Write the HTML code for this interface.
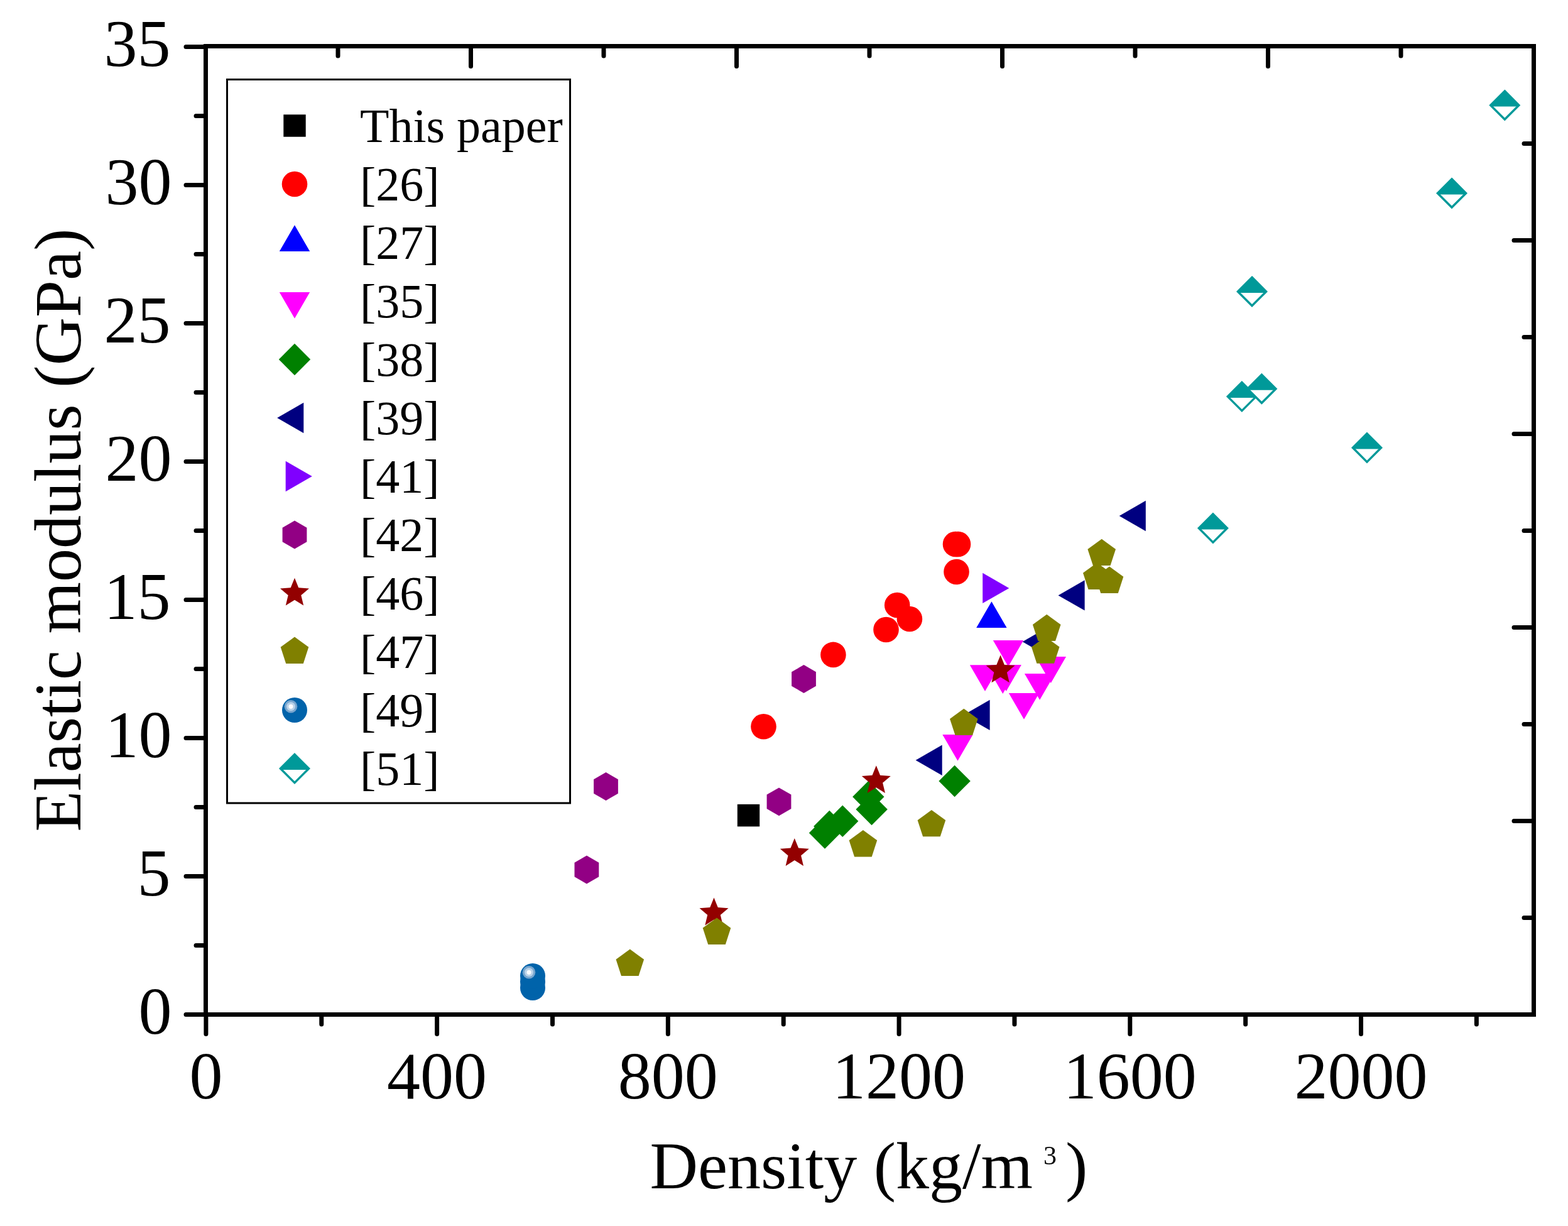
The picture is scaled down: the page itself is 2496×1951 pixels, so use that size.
<!DOCTYPE html>
<html><head><meta charset="utf-8"><title>Elastic modulus vs density</title>
<style>
html,body{margin:0;padding:0;background:#fff;overflow:hidden;}
svg{display:block;}
text{font-family:"Liberation Serif","Times New Roman",serif;fill:#000;}
</style></head>
<body>
<svg width="2496" height="1951" viewBox="0 0 2496 1951">
<rect width="2496" height="1951" fill="#fff"/>
<path d="M327.5,70.0V1618.0M2441.5,70.0V1618.0M324.0,73.5H2445.0M324.0,1614.5H2445.0" stroke="#000" stroke-width="7" fill="none"/>
<path d="M327.5,1614.50H296.0M327.5,1504.50H312.0M327.5,1394.50H296.0M327.5,1284.50H312.0M327.5,1174.50H296.0M327.5,1064.50H312.0M327.5,954.50H296.0M327.5,844.50H312.0M327.5,734.50H296.0M327.5,624.50H312.0M327.5,514.50H296.0M327.5,404.50H312.0M327.5,294.50H296.0M327.5,184.50H312.0M327.5,74.50H296.0M327.90,1614.5V1645.5M511.76,1614.5V1630.0M695.62,1614.5V1645.5M879.49,1614.5V1630.0M1063.35,1614.5V1645.5M1247.21,1614.5V1630.0M1431.07,1614.5V1645.5M1614.93,1614.5V1630.0M1798.80,1614.5V1645.5M1982.66,1614.5V1630.0M2166.52,1614.5V1645.5M2350.38,1614.5V1630.0M538.00,73.5V89.0M749.50,73.5V105.5M961.00,73.5V89.0M1172.50,73.5V105.5M1384.00,73.5V89.0M1595.50,73.5V105.5M1807.00,73.5V89.0M2018.50,73.5V105.5M2230.00,73.5V89.0M2441.5,1460.50H2426.0M2441.5,1306.50H2410.0M2441.5,1152.50H2426.0M2441.5,998.50H2410.0M2441.5,844.50H2426.0M2441.5,690.50H2410.0M2441.5,536.50H2426.0M2441.5,382.50H2410.0M2441.5,228.50H2426.0" stroke="#000" stroke-width="7" stroke-linecap="round" fill="none"/>
<text x="273.5" y="1645.0" text-anchor="end" font-size="106">0</text>
<text x="271.5" y="1425.0" text-anchor="end" font-size="106">5</text>
<text x="273.5" y="1205.0" text-anchor="end" font-size="106">10</text>
<text x="271.5" y="985.0" text-anchor="end" font-size="106">15</text>
<text x="273.5" y="765.0" text-anchor="end" font-size="106">20</text>
<text x="271.5" y="545.0" text-anchor="end" font-size="106">25</text>
<text x="273.5" y="325.0" text-anchor="end" font-size="106">30</text>
<text x="271.5" y="105.0" text-anchor="end" font-size="106">35</text>
<text x="327.9" y="1748.3" text-anchor="middle" font-size="106">0</text>
<text x="695.6" y="1748.3" text-anchor="middle" font-size="106">400</text>
<text x="1063.3" y="1748.3" text-anchor="middle" font-size="106">800</text>
<text x="1431.1" y="1748.3" text-anchor="middle" font-size="106">1200</text>
<text x="1798.8" y="1748.3" text-anchor="middle" font-size="106">1600</text>
<text x="2166.5" y="1748.3" text-anchor="middle" font-size="106">2000</text>
<text x="1034.5" y="1891.3" font-size="106">Density (kg/m</text>
<text x="1661" y="1853" font-size="42">3</text>
<text x="1696" y="1891.3" font-size="106">)</text>
<text transform="translate(127.9,1323.5) rotate(-90)" font-size="106">Elastic modulus (GPa)</text>
<rect x="1173.8" y="1279.9" width="35.4" height="35.4" fill="#000000"/>
<circle cx="1521.0" cy="866.0" r="20.3" fill="#FF0000"/>
<circle cx="1525.0" cy="866.0" r="20.3" fill="#FF0000"/>
<circle cx="1522.5" cy="910.0" r="20.3" fill="#FF0000"/>
<circle cx="1428.2" cy="963.0" r="20.3" fill="#FF0000"/>
<circle cx="1447.9" cy="985.0" r="20.3" fill="#FF0000"/>
<circle cx="1410.5" cy="1002.0" r="20.3" fill="#FF0000"/>
<circle cx="1326.4" cy="1041.9" r="20.3" fill="#FF0000"/>
<circle cx="1215.5" cy="1156.3" r="20.3" fill="#FF0000"/>
<polygon points="1578.4,957.2 1602.6,999.0 1554.2,999.0" fill="#0000FF"/>
<polygon points="1580.8,1019.0 1629.2,1019.0 1605.0,1060.8" fill="#FF00FF"/>
<polygon points="1543.8,1058.3 1592.2,1058.3 1568.0,1100.1" fill="#FF00FF"/>
<polygon points="1572.1,1062.3 1620.5,1062.3 1596.3,1104.1" fill="#FF00FF"/>
<polygon points="1577.5,1058.1 1625.9,1058.1 1601.7,1099.9" fill="#FF00FF"/>
<polygon points="1630.9,1072.0 1679.3,1072.0 1655.1,1113.8" fill="#FF00FF"/>
<polygon points="1648.5,1045.1 1697.0,1045.1 1672.8,1086.9" fill="#FF00FF"/>
<polygon points="1605.8,1102.9 1654.2,1102.9 1630.0,1144.7" fill="#FF00FF"/>
<polygon points="1500.3,1169.0 1548.7,1169.0 1524.5,1210.8" fill="#FF00FF"/>
<polygon points="1519.6,1217.8 1544.8,1243.0 1519.6,1268.2 1494.4,1243.0" fill="#008000"/>
<polygon points="1382.3,1242.8 1407.5,1268.0 1382.3,1293.2 1357.1,1268.0" fill="#008000"/>
<polygon points="1387.6,1262.8 1412.8,1288.0 1387.6,1313.2 1362.4,1288.0" fill="#008000"/>
<polygon points="1341.2,1281.6 1366.4,1306.8 1341.2,1332.0 1316.0,1306.8" fill="#008000"/>
<polygon points="1320.3,1289.8 1345.5,1315.0 1320.3,1340.2 1295.1,1315.0" fill="#008000"/>
<polygon points="1313.0,1300.3 1338.2,1325.5 1313.0,1350.7 1287.8,1325.5" fill="#008000"/>
<polygon points="1533.5,1137.9 1575.6,1113.7 1575.6,1162.1" fill="#000080"/>
<polygon points="1627.7,1021.2 1669.8,997.0 1669.8,1045.4" fill="#000080"/>
<polygon points="1457.6,1209.7 1499.7,1185.5 1499.7,1233.9" fill="#000080"/>
<polygon points="1684.5,947.4 1726.6,923.2 1726.6,971.6" fill="#000080"/>
<polygon points="1781.7,821.0 1823.8,796.8 1823.8,845.2" fill="#000080"/>
<polygon points="1606.3,935.9 1564.2,911.7 1564.2,960.1" fill="#8000FF"/>
<polygon points="964.5,1229.1 983.9,1240.3 983.9,1262.7 964.5,1273.9 945.1,1262.7 945.1,1240.3" fill="#920084"/>
<polygon points="1240.0,1253.4 1259.4,1264.6 1259.4,1287.0 1240.0,1298.2 1220.6,1287.0 1220.6,1264.6" fill="#920084"/>
<polygon points="933.9,1361.6 953.3,1372.8 953.3,1395.2 933.9,1406.4 914.5,1395.2 914.5,1372.8" fill="#920084"/>
<polygon points="1279.5,1058.1 1298.9,1069.3 1298.9,1091.7 1279.5,1102.9 1260.1,1091.7 1260.1,1069.3" fill="#920084"/>
<polygon points="1394.8,1218.2 1401.1,1233.7 1417.8,1234.9 1405.1,1245.7 1409.0,1262.0 1394.8,1253.2 1380.6,1262.0 1384.5,1245.7 1371.8,1234.9 1388.5,1233.7" fill="#930000"/>
<polygon points="1264.8,1334.1 1271.1,1349.6 1287.8,1350.8 1275.1,1361.6 1279.0,1377.9 1264.8,1369.1 1250.6,1377.9 1254.5,1361.6 1241.8,1350.8 1258.5,1349.6" fill="#930000"/>
<polygon points="1592.6,1042.4 1598.9,1057.9 1615.6,1059.1 1602.9,1069.9 1606.8,1086.2 1592.6,1077.4 1578.4,1086.2 1582.3,1069.9 1569.6,1059.1 1586.3,1057.9" fill="#930000"/>
<polygon points="1136.5,1428.6 1142.8,1444.1 1159.5,1445.3 1146.8,1456.1 1150.7,1472.4 1136.5,1463.6 1122.3,1472.4 1126.2,1456.1 1113.5,1445.3 1130.2,1444.1" fill="#930000"/>
<polygon points="1373.9,1321.1 1396.2,1337.3 1387.7,1363.4 1360.1,1363.4 1351.6,1337.3" fill="#808000"/>
<polygon points="1482.9,1289.0 1505.2,1305.2 1496.7,1331.3 1469.1,1331.3 1460.6,1305.2" fill="#808000"/>
<polygon points="1534.3,1127.8 1556.6,1144.0 1548.1,1170.1 1520.5,1170.1 1512.0,1144.0" fill="#808000"/>
<polygon points="1664.2,1013.4 1686.5,1029.6 1678.0,1055.7 1650.4,1055.7 1641.9,1029.6" fill="#808000"/>
<polygon points="1666.2,977.8 1688.5,994.0 1680.0,1020.1 1652.4,1020.1 1643.9,994.0" fill="#808000"/>
<polygon points="1746.3,895.6 1768.6,911.8 1760.1,937.9 1732.5,937.9 1724.0,911.8" fill="#808000"/>
<polygon points="1766.0,901.6 1788.3,917.8 1779.8,943.9 1752.2,943.9 1743.7,917.8" fill="#808000"/>
<polygon points="1753.7,857.8 1776.0,874.0 1767.5,900.1 1739.9,900.1 1731.4,874.0" fill="#808000"/>
<polygon points="1141.0,1460.6 1163.3,1476.8 1154.8,1502.9 1127.2,1502.9 1118.7,1476.8" fill="#808000"/>
<polygon points="1002.8,1510.6 1025.1,1526.8 1016.6,1552.9 989.0,1552.9 980.5,1526.8" fill="#808000"/>
<g><circle cx="848.0" cy="1572.0" r="20" fill="#0063AA"/><circle cx="842.0" cy="1566.3" r="10.3" fill="#78A6CF"/><circle cx="842.0" cy="1566.3" r="7" fill="#BAD2E8"/><circle cx="842.0" cy="1566.3" r="3.6" fill="#FAFCFF"/></g>
<g><circle cx="848.0" cy="1562.5" r="20" fill="#0063AA"/><circle cx="842.0" cy="1556.8" r="10.3" fill="#78A6CF"/><circle cx="842.0" cy="1556.8" r="7" fill="#BAD2E8"/><circle cx="842.0" cy="1556.8" r="3.6" fill="#FAFCFF"/></g>
<g><circle cx="848.0" cy="1553.0" r="20" fill="#0063AA"/><circle cx="842.0" cy="1547.3" r="10.3" fill="#78A6CF"/><circle cx="842.0" cy="1547.3" r="7" fill="#BAD2E8"/><circle cx="842.0" cy="1547.3" r="3.6" fill="#FAFCFF"/></g>
<g><polygon points="1930.9,817.9 1953.5,840.5 1930.9,863.1 1908.3,840.5" fill="#fff" stroke="#009999" stroke-width="3.4" stroke-linejoin="miter"/><polygon points="1930.9,817.9 1953.5,840.5 1951.5,842.5 1910.3,842.5 1908.3,840.5" fill="#009999"/></g>
<g><polygon points="1993.0,441.3 2015.6,463.9 1993.0,486.5 1970.4,463.9" fill="#fff" stroke="#009999" stroke-width="3.4" stroke-linejoin="miter"/><polygon points="1993.0,441.3 2015.6,463.9 2013.6,465.9 1972.4,465.9 1970.4,463.9" fill="#009999"/></g>
<g><polygon points="1976.9,608.5 1999.5,631.1 1976.9,653.7 1954.3,631.1" fill="#fff" stroke="#009999" stroke-width="3.4" stroke-linejoin="miter"/><polygon points="1976.9,608.5 1999.5,631.1 1997.5,633.1 1956.3,633.1 1954.3,631.1" fill="#009999"/></g>
<g><polygon points="2008.4,596.1 2031.0,618.7 2008.4,641.3 1985.8,618.7" fill="#fff" stroke="#009999" stroke-width="3.4" stroke-linejoin="miter"/><polygon points="2008.4,596.1 2031.0,618.7 2029.0,620.7 1987.8,620.7 1985.8,618.7" fill="#009999"/></g>
<g><polygon points="2176.0,689.9 2198.6,712.5 2176.0,735.1 2153.4,712.5" fill="#fff" stroke="#009999" stroke-width="3.4" stroke-linejoin="miter"/><polygon points="2176.0,689.9 2198.6,712.5 2196.6,714.5 2155.4,714.5 2153.4,712.5" fill="#009999"/></g>
<g><polygon points="2311.0,284.8 2333.6,307.4 2311.0,330.0 2288.4,307.4" fill="#fff" stroke="#009999" stroke-width="3.4" stroke-linejoin="miter"/><polygon points="2311.0,284.8 2333.6,307.4 2331.6,309.4 2290.4,309.4 2288.4,307.4" fill="#009999"/></g>
<g><polygon points="2395.3,144.8 2417.9,167.4 2395.3,190.0 2372.7,167.4" fill="#fff" stroke="#009999" stroke-width="3.4" stroke-linejoin="miter"/><polygon points="2395.3,144.8 2417.9,167.4 2415.9,169.4 2374.7,169.4 2372.7,167.4" fill="#009999"/></g>
<rect x="361.5" y="126.5" width="546" height="1151.5" fill="#fff" stroke="#000" stroke-width="3"/>
<rect x="451.3" y="182.3" width="35.4" height="35.4" fill="#000000"/>
<text x="573" y="225.8" font-size="76">This paper</text>
<circle cx="469.0" cy="293.0" r="20.3" fill="#FF0000"/>
<text x="573" y="318.8" font-size="76">[26]</text>
<polygon points="469.0,358.2 493.2,400.0 444.8,400.0" fill="#0000FF"/>
<text x="573" y="411.8" font-size="76">[27]</text>
<polygon points="444.8,465.0 493.2,465.0 469.0,506.8" fill="#FF00FF"/>
<text x="573" y="504.8" font-size="76">[35]</text>
<polygon points="469.0,546.8 494.2,572.0 469.0,597.2 443.8,572.0" fill="#008000"/>
<text x="573" y="597.8" font-size="76">[38]</text>
<polygon points="441.2,665.0 483.3,640.8 483.3,689.2" fill="#000080"/>
<text x="573" y="690.8" font-size="76">[39]</text>
<polygon points="496.8,758.0 454.7,733.8 454.7,782.2" fill="#8000FF"/>
<text x="573" y="783.8" font-size="76">[41]</text>
<polygon points="469.0,828.6 488.4,839.8 488.4,862.2 469.0,873.4 449.6,862.2 449.6,839.8" fill="#920084"/>
<text x="573" y="876.8" font-size="76">[42]</text>
<polygon points="469.0,919.8 475.3,935.3 492.0,936.5 479.3,947.3 483.2,963.6 469.0,954.8 454.8,963.6 458.7,947.3 446.0,936.5 462.7,935.3" fill="#930000"/>
<text x="573" y="969.8" font-size="76">[46]</text>
<polygon points="469.0,1013.6 491.3,1029.8 482.8,1055.9 455.2,1055.9 446.7,1029.8" fill="#808000"/>
<text x="573" y="1062.8" font-size="76">[47]</text>
<g><circle cx="469.0" cy="1130.0" r="20" fill="#0063AA"/><circle cx="463.0" cy="1124.3" r="10.3" fill="#78A6CF"/><circle cx="463.0" cy="1124.3" r="7" fill="#BAD2E8"/><circle cx="463.0" cy="1124.3" r="3.6" fill="#FAFCFF"/></g>
<text x="573" y="1155.8" font-size="76">[49]</text>
<g><polygon points="469.0,1200.4 491.6,1223.0 469.0,1245.6 446.4,1223.0" fill="#fff" stroke="#009999" stroke-width="3.4" stroke-linejoin="miter"/><polygon points="469.0,1200.4 491.6,1223.0 489.6,1225.0 448.4,1225.0 446.4,1223.0" fill="#009999"/></g>
<text x="573" y="1248.8" font-size="76">[51]</text>
</svg>
</body></html>
